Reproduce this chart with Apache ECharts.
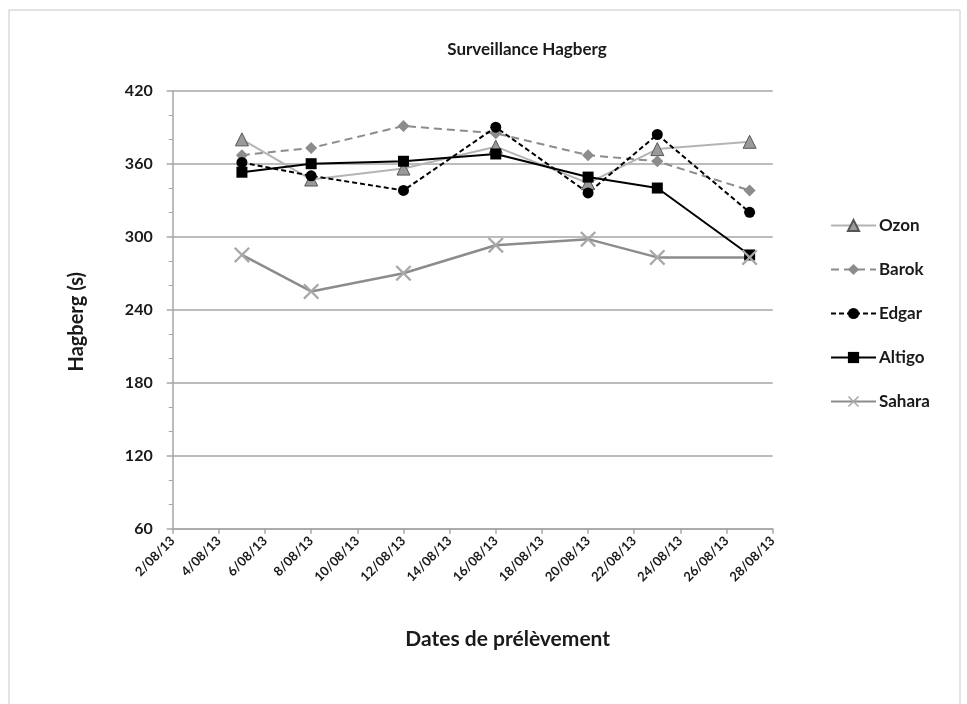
<!DOCTYPE html>
<html>
<head>
<meta charset="utf-8">
<script src="https://cdn.jsdelivr.net/npm/echarts@6/dist/echarts.min.js"></script>
<style>html,body{margin:0;padding:0;background:#fff;}#c{width:967px;height:704px;}</style>
</head>
<body>
<div id="c"></div>
<script>
// Sampling dates (day/month/year)
const dates = ['5/08/13', '8/08/13', '12/08/13', '16/08/13', '20/08/13', '23/08/13', '27/08/13'];
const ozon   = [380, 347, 356, 374, 344, 372, 378];
const barok  = [367, 373, 391, 385, 367, 362, 338];
const edgar  = [361, 350, 338, 390, 336, 384, 320];
const altigo = [353, 360, 362, 368, 349, 340, 285];
const sahara = [285, 255, 270, 293, 298, 283, 283];
const seriesNames = ['Ozon', 'Barok', 'Edgar', 'Altigo', 'Sahara'];
const xMinDay = 2, xMaxDay = 28, xStep = 2;
const yMin = 60, yMax = 420, yStep = 60;

const dayOf = d => Number(d.split('/')[0]);
const pts = vals => dates.map((d, i) => [dayOf(d), vals[i]]);

const FONT = 'Lato, "Open Sans", sans-serif';
const TXT = '#1a1a1a';
const xPath = 'path://M0,1L1,0L5,4L9,0L10,1L6,5L10,9L9,10L5,6L1,10L0,9L4,5Z';

const chart = echarts.init(document.getElementById('c'), null, {renderer: 'canvas'});
chart.setOption({
  backgroundColor: '#fff',
  animation: false,
  textStyle: {fontFamily: FONT},
  graphic: [{
    type: 'rect', shape: {x: 9, y: 10, width: 951, height: 720},
    style: {fill: 'none', stroke: '#c8c8c8', lineWidth: 1}, z: -1
  }],
  title: {
    text: 'Surveillance Hagberg', left: 522, top: 36, textAlign: 'center',
    textStyle: {fontFamily: FONT, fontSize: 17, fontWeight: 'bold', color: TXT}
  },
  grid: {left: 172.7, right: 194.3, top: 90.7, bottom: 175.3, containLabel: false},
  legend: {
    orient: 'vertical', left: 825, top: 212, itemGap: 27, itemWidth: 45, itemHeight: 14,
    textStyle: {fontFamily: FONT, fontSize: 17, fontWeight: 'bold', color: TXT, padding: [0, 0, 0, -2]},
    data: seriesNames
  },
  xAxis: {
    type: 'value', min: xMinDay, max: xMaxDay, interval: xStep,
    name: 'Dates de prélèvement', nameLocation: 'middle', nameGap: 100,
    nameTextStyle: {fontFamily: FONT, fontSize: 21, fontWeight: 'bold', color: TXT, padding: [0, 0, 0, 70]},
    axisLine: {lineStyle: {color: '#a6a6a6', width: 1.5}},
    axisTick: {show: true, length: 5, lineStyle: {color: '#a6a6a6', width: 1.5}},
    splitLine: {show: false},
    axisLabel: {
      rotate: 45, margin: 10, fontFamily: FONT, fontSize: 13, fontWeight: 'bold', color: TXT,
      formatter: v => v + '/08/13'
    }
  },
  yAxis: {
    type: 'value', min: yMin, max: yMax, interval: yStep,
    name: 'Hagberg (s)', nameLocation: 'middle', nameGap: 86, nameRotate: 90,
    nameTextStyle: {fontFamily: FONT, fontSize: 20, fontWeight: 'bold', color: TXT, padding: [0, 24, 0, 0]},
    axisLine: {show: true, lineStyle: {color: '#a6a6a6', width: 1.5}},
    axisTick: {show: true, length: 6, lineStyle: {color: '#a6a6a6', width: 1.5}},
    minorTick: {show: true, splitNumber: 3, length: 4, lineStyle: {color: '#a6a6a6', width: 1}},
    splitLine: {show: true, lineStyle: {color: '#a6a6a6', width: 1.5}},
    axisLabel: {margin: 20, fontFamily: FONT, fontSize: 16, fontWeight: 'bold', color: TXT}
  },
  series: [
    {name: 'Ozon', type: 'line', data: pts(ozon), symbol: 'triangle', symbolSize: 13,
     lineStyle: {color: '#b4b4b4', width: 2}, itemStyle: {color: '#9a9a9a', borderColor: '#555', borderWidth: 1}},
    {name: 'Barok', type: 'line', data: pts(barok), symbol: 'diamond', symbolSize: 12,
     lineStyle: {color: '#8c8c8c', width: 2, type: [8, 5]}, itemStyle: {color: '#8c8c8c', borderWidth: 0}},
    {name: 'Edgar', type: 'line', data: pts(edgar), symbol: 'circle', symbolSize: 11,
     lineStyle: {color: '#000', width: 2, type: [5, 3]}, itemStyle: {color: '#000', borderWidth: 0}},
    {name: 'Altigo', type: 'line', data: pts(altigo), symbol: 'rect', symbolSize: 11,
     lineStyle: {color: '#000', width: 2}, itemStyle: {color: '#000', borderWidth: 0}},
    {name: 'Sahara', type: 'line', data: pts(sahara), symbol: xPath, symbolSize: 16,
     lineStyle: {color: '#8c8c8c', width: 2.5}, itemStyle: {color: '#a8a8a8', borderWidth: 0}}
  ]
});
</script>
</body>
</html>
